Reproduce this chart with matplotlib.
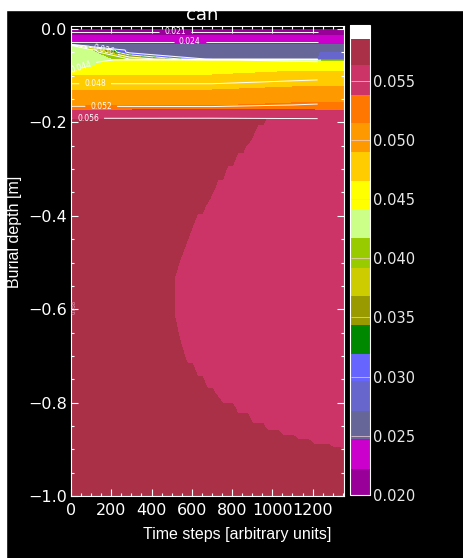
import numpy as np
import matplotlib.pyplot as plt
from matplotlib.colors import ListedColormap, BoundaryNorm
from matplotlib.patches import Rectangle

# colour classes
levels = [0.0200, 0.0222, 0.0247, 0.0271, 0.0296, 0.0319, 0.0344, 0.0368, 0.0392,
          0.0417, 0.0442, 0.0465, 0.0490, 0.0514, 0.0538, 0.0563, 0.0585, 0.0597]
colors = ['#990099', '#CC00CC', '#666699', '#6666CC', '#6666FF', '#008800',
          '#999900', '#CCCC00', '#99CC00', '#CCFF88', '#FFFF00', '#FFCC00',
          '#FF9900', '#FF7700', '#CC3366', '#AA3048', '#FFFFFF']
cbar_ticks = [0.020, 0.025, 0.030, 0.035, 0.040, 0.045, 0.050, 0.055]
line_levels = [0.021, 0.024, 0.028, 0.032, 0.036, 0.040, 0.044, 0.048, 0.052, 0.056]

# near-surface part: concentration at depth rows x time columns
top_time = [0, 100, 290, 700, 1225, 1240, 1355]
top_depth = [0.0, -0.0128, -0.0321, -0.0364, -0.0450, -0.0493, -0.0642, -0.0664,
             -0.0707, -0.0814, -0.0899, -0.0921, -0.0985, -0.1221, -0.1306,
             -0.1563, -0.1627, -0.1734, -0.1927]
top_conc = [
    [.0201, .0201, .0201, .0201, .0201, .0201, .0201],
    [.0222, .0222, .0222, .0222, .0222, .0222, .0222],
    [.0247, .0247, .0247, .0247, .0247, .0247, .0247],
    [.0430, .0255, .0255, .0255, .0255, .0253, .0253],
    [.0430, .0420, .0262, .0262, .0262, .0265, .0265],
    [.0430, .0430, .0265, .0265, .0265, .0271, .0271],
    [.0432, .0434, .0400, .0270, .0270, .0296, .0296],
    [.0434, .0436, .0443, .0443, .0430, .0370, .0370],
    [.0436, .0438, .0450, .0450, .0442, .0442, .0442],
    [.0438, .0442, .0456, .0456, .0455, .0455, .0455],
    [.0440, .0456, .0461, .0461, .0465, .0465, .0465],
    [.0442, .0459, .0462, .0462, .0467, .0467, .0467],
    [.0465, .0465, .0465, .0465, .0472, .0472, .0472],
    [.0484, .0484, .0484, .0484, .0490, .0490, .0490],
    [.0490, .0490, .0490, .0490, .0496, .0496, .0496],
    [.0509, .0509, .0508, .0506, .0514, .0514, .0514],
    [.0514, .0514, .0513, .0511, .0523, .0523, .0523],
    [.0538, .0538, .0538, .0540, .0538, .0538, .0538],
    [.0562, .0562, .0562, .0562, .0561, .0555, .0555],
]

# deep part: time where the lower (pink) class begins, per depth
edge_depth = [-0.193, -0.216, -0.238, -0.252, -0.277, -0.306, -0.338, -0.362,
              -0.380, -0.409, -0.437, -0.466, -0.495, -0.530, -0.566, -0.616,
              -0.666, -0.702, -0.730, -0.759, -0.780, -0.794, -0.812, -0.837,
              -0.855, -0.866, -0.875, -0.884, -0.894, -0.898, -0.905, -1.0]
edge_time = [954, 922, 889, 856, 814, 772, 723, 690, 657, 624, 591, 557, 541,
             524, 516, 521, 541, 566, 607, 657, 707, 748, 806, 888, 971, 1053,
             1111, 1194, 1300, 1350, 1400, 1400]
conc_high = 0.0575
conc_low = 0.0552

cmap = ListedColormap(colors)
norm = BoundaryNorm(levels, cmap.N)

fig = plt.figure(figsize=(4.64, 5.58), dpi=100, facecolor='black')
ax = fig.add_axes([0.153, 0.1111, 0.588, 0.8423])
ax.set_facecolor('black')
cax = fig.add_axes([0.754, 0.1129, 0.043, 0.8423])

t_grid = np.linspace(0, 1355, 55)
deep_conc = np.where(t_grid[None, :] < np.array(edge_time)[:, None], conc_high, conc_low)

cf = ax.contourf(top_time, top_depth, top_conc, levels=levels, cmap=cmap, norm=norm)
ax.contourf(t_grid, edge_depth, deep_conc, levels=levels, cmap=cmap, norm=norm)

# contour lines only up to ~1225
top_arr = np.array(top_conc)
cs = ax.contour(top_time[:5], top_depth, top_arr[:, :5], levels=line_levels,
                colors='white', linewidths=0.7)
ax.clabel(cs, fmt='%.3f', fontsize=5.5, colors='white', inline=True,
          manual=[(516, -0.009), (590, -0.026), (160, -0.048), (40, -0.07),
                  (120, -0.119), (150, -0.166), (85, -0.19)])
ax.text(3, -0.595, '0.058', rotation=90, fontsize=3.5, color='#f0b0c8',
        ha='left', va='center')

ax.set_xlim(0, 1355)
ax.set_ylim(-1.0, 0.0065)
ax.set_xticks([0, 200, 400, 600, 800, 1000, 1200])
ax.set_xticks(np.arange(0, 1355, 50), minor=True)
ax.set_yticks([0.0, -0.2, -0.4, -0.6, -0.8, -1.0])
ax.set_yticks(np.arange(-1.0, 0.001, 0.05), minor=True)
ax.tick_params(which='both', direction='in', colors='white', top=True, right=True,
               labelsize=11.5)
ax.tick_params(which='major', length=5, width=0.8)
ax.tick_params(which='minor', length=2.5, width=0.8)
ax.tick_params(axis='x', pad=5)
ax.tick_params(axis='y', pad=3)
for sp in ax.spines.values():
    sp.set_color('white')

cb = fig.colorbar(cf, cax=cax, ticks=cbar_ticks, spacing='proportional', format='%.3f')
cb.outline.set_edgecolor('white')
cb.ax.tick_params(direction='in', length=14, width=0.5, colors='#e8e8e8',
                  labelsize=10.5, pad=2)
cb.ax.yaxis.set_tick_params(color='#f4d0d8')

fig.text(0.435, 1 - 19.5 / 558, 'can', ha='center', va='baseline', color='white',
         fontsize=13)
fig.text(237 / 464, 1 - 534 / 558, 'Time steps [arbitrary units]', ha='center',
         va='center', color='white', fontsize=11.5, family='Liberation Sans')
fig.text(15 / 464, 1 - 232 / 558, 'Burial depth [m]', ha='center', va='center',
         rotation=90, color='white', fontsize=11.5, family='Liberation Sans')

# white margins at top and left
fig.add_artist(Rectangle((0, 1 - 10 / 558), 1, 10 / 558, transform=fig.transFigure,
                         color='white', zorder=10))
fig.add_artist(Rectangle((0, 0), 6 / 464, 1, transform=fig.transFigure,
                         color='white', zorder=10))

fig.savefig('out.png', dpi=100, facecolor='black')
